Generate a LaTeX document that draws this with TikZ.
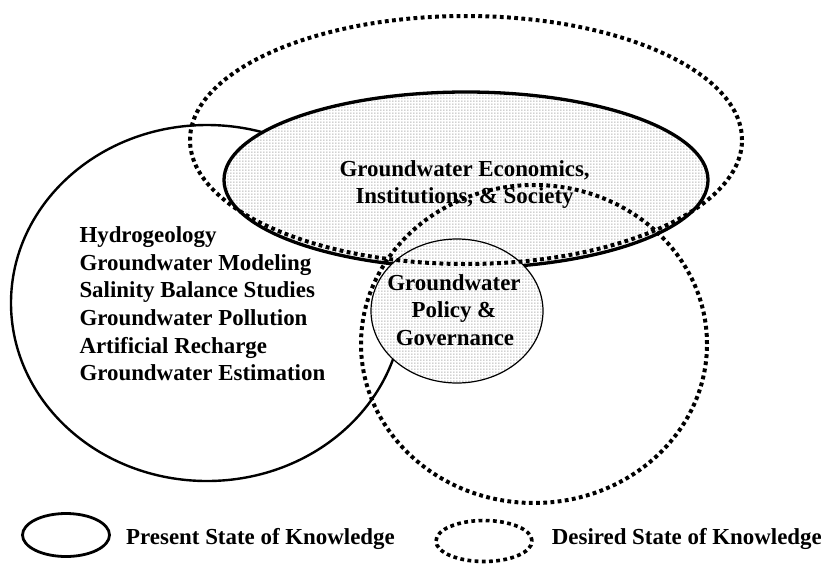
\documentclass[tikz,border=0pt]{standalone}
\usepackage{fontspec}
\setmainfont{Liberation Serif}
\usetikzlibrary{shapes.geometric,patterns}
\pgfdeclarepatternformonly{graydots}{\pgfqpoint{0pt}{0pt}}{\pgfqpoint{3.3pt}{3.3pt}}{\pgfqpoint{3.3pt}{3.3pt}}{%
  \pgfpathrectangle{\pgfqpoint{0.6pt}{0.6pt}}{\pgfqpoint{1.2pt}{1.2pt}}\pgfusepath{fill}}
\tikzset{
  present/.style={ellipse, draw, line width=2.4pt, inner sep=0pt},
  desired/.style={ellipse, draw, line width=4pt, dash pattern=on 3.8pt off 3.4pt, inner sep=0pt},
  shaded/.style={ellipse, draw, inner sep=0pt, preaction={fill=white}, pattern=graydots, pattern color=black!42},
  lbl/.style={font=\fontsize{22.9pt}{27.5pt}\selectfont\bfseries, inner sep=0pt},
}
\begin{document}
\begin{tikzpicture}[x=1pt,y=-1pt]
\useasboundingbox (0,0) rectangle (821,563);
% present state (solid)
\node[present, minimum width=392pt, minimum height=356pt] (present) at (207,303) {};
% shaded areas
\node[shaded, line width=3.3pt, minimum width=484pt, minimum height=176pt] (econ) at (466,180) {};
\node[shaded, line width=1.2pt, minimum width=172pt, minimum height=144pt] (policy) at (457,311) {};
% desired state (dotted)
\node[desired, minimum width=552pt, minimum height=248pt] (desiredtop) at (466,140) {};
\node[desired, minimum width=346pt, minimum height=318pt] (desiredright) at (534,344) {};
% texts
\node[lbl, anchor=base] (e1) at (464.6,176.7) {Groundwater Economics,};
\node[lbl, anchor=base] (e2) at (464.6,203.3) {Institutions, \& Society};
\node[lbl, anchor=base] (p1) at (454,290) {Groundwater};
\node[lbl, anchor=base] (p2) at (454,317.8) {Policy \&};
\node[lbl, anchor=base] (p3) at (455,345.5) {Governance};
\node[lbl, anchor=base west] (l1) at (79.3,242.7) {Hydrogeology};
\node[lbl, anchor=base west] (l2) at (79.3,270.3) {Groundwater Modeling};
\node[lbl, anchor=base west] (l3) at (79.3,297.9) {Salinity Balance Studies};
\node[lbl, anchor=base west] (l4) at (79.3,325.5) {Groundwater Pollution};
\node[lbl, anchor=base west] (l5) at (79.3,353.1) {Artificial Recharge};
\node[lbl, anchor=base west] (l6) at (79.3,380.7) {Groundwater Estimation};
% legend
\node[present, line width=2.8pt, minimum width=87pt, minimum height=43pt] (legpresent) at (66,535) {};
\node[desired, line width=3.6pt, minimum width=96pt, minimum height=41pt] (legdesired) at (484,541) {};
\node[lbl, anchor=base west] (legpt) at (126,544.3) {Present State of Knowledge};
\node[lbl, anchor=base west] (legdt) at (551.7,544.3) {Desired State of Knowledge};
\end{tikzpicture}
\end{document}
